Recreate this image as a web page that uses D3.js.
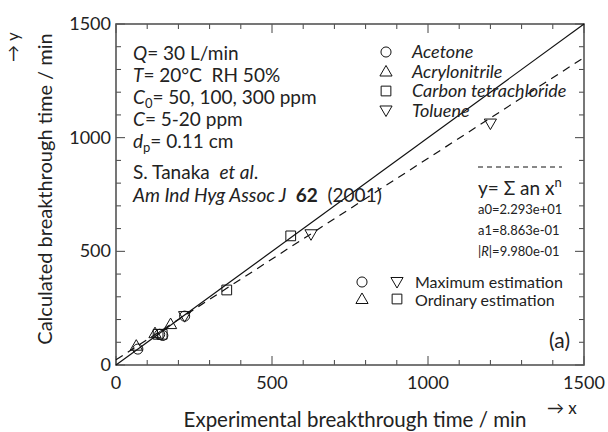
<!doctype html>
<html lang="en">
<head>
<meta charset="utf-8">
<title>Breakthrough time</title>
<script src="https://d3js.org/d3.v7.min.js"></script>
<style>
  body { margin: 0; background: #fff; }
  svg text { font-family: Lato, "Open Sans", sans-serif; fill: #222; white-space: pre; }
</style>
</head>
<body>
<div id="here"></div>
<script>
// data (x = experimental, y = calculated, min)
var acetoneX = [70, 140, 150, 220];
var acetoneY = [70, 135, 130, 215];
var acryloX = [65, 125, 175];
var acryloY = [85, 140, 180];
var carbonX = [135, 148, 355, 560];
var carbonY = [135, 135, 330, 568];
var tolueneX = [220, 625, 1200];
var tolueneY = [215, 575, 1062];
var fitA0 = 22.93, fitA1 = 0.8863;
var axisTicks = [0, 500, 1000, 1500];

var w = 608, h = 432;
var pL = 116, pR = 584, pT = 24, pB = 365;

var svg = d3.select("#here").append("svg")
  .attr("width", w).attr("height", h);

var x = d3.scaleLinear().domain([0, 1500]).range([pL, pR]);
var y = d3.scaleLinear().domain([0, 1500]).range([pB, pT]);

// ticks inside on all four sides
var minor = d3.range(0, 1501, 100);
function tickLen(v) { return v % 500 == 0 ? 9 : 5; }
var tk = svg.append("g").attr("stroke", "#444").attr("stroke-width", 1);
minor.forEach(function(v) {
  tk.append("line").attr("x1", x(v)).attr("x2", x(v)).attr("y1", pB).attr("y2", pB - tickLen(v));
  tk.append("line").attr("x1", x(v)).attr("x2", x(v)).attr("y1", pT).attr("y2", pT + tickLen(v));
  tk.append("line").attr("y1", y(v)).attr("y2", y(v)).attr("x1", pL).attr("x2", pL + tickLen(v));
  tk.append("line").attr("y1", y(v)).attr("y2", y(v)).attr("x1", pR).attr("x2", pR - tickLen(v));
});

svg.append("rect")
  .attr("x", pL).attr("y", pT)
  .attr("width", pR - pL).attr("height", pB - pT)
  .attr("fill", "none").attr("stroke", "#555").attr("stroke-width", 1.6);

// tick labels
svg.selectAll(".xl").data(axisTicks).enter().append("text")
  .attr("x", function(d) { return x(d); }).attr("y", 389)
  .attr("text-anchor", "middle").style("font-size", "18px")
  .text(function(d) { return d; });
svg.selectAll(".yl").data(axisTicks).enter().append("text")
  .attr("x", 111).attr("y", function(d) { return y(d) + 6; })
  .attr("text-anchor", "end").style("font-size", "18px")
  .text(function(d) { return d; });

// axis titles
svg.append("text").attr("x", 355).attr("y", 427).attr("text-anchor", "middle")
  .style("font-size", "20.5px").text("Experimental breakthrough time / min");
svg.append("text").attr("x", 547).attr("y", 414)
  .style("font-size", "17px").text("\u2192 x");
svg.append("text").attr("transform", "translate(52,189) rotate(-90)").attr("text-anchor", "middle")
  .style("font-size", "20px").text("Calculated breakthrough time / min");
svg.append("text").attr("transform", "translate(19,62) rotate(-90)")
  .style("font-size", "17px").text("\u2192 y");

// lines: y = x and fit
var line = d3.line().x(function(d) { return x(d[0]); }).y(function(d) { return y(d[1]); });
svg.append("path").attr("d", line([[0, 0], [1500, 1500]]))
  .attr("stroke", "#111").attr("stroke-width", 1.2).attr("fill", "none");
svg.append("path").attr("d", line([[0, fitA0], [1500, fitA0 + fitA1 * 1500]]))
  .attr("stroke", "#111").attr("stroke-width", 1.2).attr("fill", "none")
  .attr("stroke-dasharray", "8,6");

// markers
var sym = {
  circle: d3.symbol().type(d3.symbolCircle).size(80),
  tri: d3.symbol().type(d3.symbolTriangle).size(64),
  square: d3.symbol().type(d3.symbolSquare).size(95)
};
function marker(g, kind, px, py) {
  var p = g.append("path")
    .attr("fill", "none").attr("stroke", "#111").attr("stroke-width", 1);
  if (kind == "inv") {
    p.attr("d", sym.tri()).attr("transform", "translate(" + px + "," + py + ") rotate(180)");
  } else {
    p.attr("d", sym[kind]()).attr("transform", "translate(" + px + "," + py + ")");
  }
  return p;
}
var pts = svg.append("g");
acetoneX.forEach(function(v, i) { marker(pts, "circle", x(v), y(acetoneY[i])); });
acryloX.forEach(function(v, i) { marker(pts, "tri", x(v), y(acryloY[i]) + 1); });
carbonX.forEach(function(v, i) { marker(pts, "square", x(v), y(carbonY[i])); });
tolueneX.forEach(function(v, i) { marker(pts, "inv", x(v), y(tolueneY[i]) - 1); });

// conditions text
var cond = svg.append("g").style("font-size", "19px");
var t;
t = cond.append("text").attr("x", 133).attr("y", 60);
t.append("tspan").style("font-style", "italic").text("Q");
t.append("tspan").text("= 30 L/min");
t = cond.append("text").attr("x", 133).attr("y", 82);
t.append("tspan").style("font-style", "italic").text("T");
t.append("tspan").text("= 20\u00b0C  RH 50%");
t = cond.append("text").attr("x", 133).attr("y", 104);
t.append("tspan").style("font-style", "italic").text("C");
t.append("tspan").attr("dy", 4).style("font-size", "13px").text("0");
t.append("tspan").attr("dy", -4).text("= 50, 100, 300 ppm");
t = cond.append("text").attr("x", 133).attr("y", 126);
t.append("tspan").style("font-style", "italic").text("C");
t.append("tspan").text("= 5-20 ppm");
t = cond.append("text").attr("x", 133).attr("y", 148);
t.append("tspan").style("font-style", "italic").text("d");
t.append("tspan").attr("dy", 4).style("font-size", "13px").text("p");
t.append("tspan").attr("dy", -4).text("= 0.11 cm");

var ref = svg.append("g").style("font-size", "19px");
t = ref.append("text").attr("x", 133).attr("y", 179);
t.append("tspan").text("S. Tanaka  ");
t.append("tspan").style("font-style", "italic").text("et al");
t.append("tspan").text(".");
t = ref.append("text").attr("x", 133).attr("y", 202);
t.append("tspan").style("font-style", "italic").text("Am Ind Hyg Assoc J");
t.append("tspan").style("font-weight", "bold").text("  62");
t.append("tspan").text("  (2001)");

// compound legend
var names = ["Acetone", "Acrylonitrile", "Carbon tetrachloride", "Toluene"];
var kinds = ["circle", "tri", "square", "inv"];
var leg = svg.append("g");
names.forEach(function(n, i) {
  var yy = 52 + i * 19.5;
  marker(leg, kinds[i], 386, yy + (kinds[i] == "tri" ? 1 : kinds[i] == "inv" ? -1 : 0));
  leg.append("text").attr("x", 412).attr("y", yy + 6)
    .style("font-size", "18px").style("font-style", "italic").text(n);
});

// fit panel
svg.append("line").attr("x1", 478).attr("x2", 562).attr("y1", 167).attr("y2", 167)
  .attr("stroke", "#111").attr("stroke-dasharray", "5,4");
t = svg.append("text").attr("x", 478).attr("y", 195).style("font-size", "19px");
t.append("tspan").text("y= \u03a3 an x");
t.append("tspan").attr("dy", -8).style("font-size", "13px").text("n");
var fitText = ["a0=2.293e+01", "a1=8.863e-01"];
fitText.forEach(function(s, i) {
  svg.append("text").attr("x", 478).attr("y", 214 + i * 21)
    .style("font-size", "13px").text(s);
});
t = svg.append("text").attr("x", 478).attr("y", 256).style("font-size", "13px");
t.append("tspan").text("|");
t.append("tspan").style("font-style", "italic").text("R");
t.append("tspan").text("|=9.980e-01");

// estimation legend
marker(svg, "circle", 362, 282);
marker(svg, "inv", 397, 281);
marker(svg, "tri", 362, 300);
marker(svg, "square", 397, 299);
svg.append("text").attr("x", 415).attr("y", 288).style("font-size", "16px").text("Maximum estimation");
svg.append("text").attr("x", 415).attr("y", 306).style("font-size", "16px").text("Ordinary estimation");

svg.append("text").attr("x", 570).attr("y", 348).attr("text-anchor", "end")
  .style("font-size", "21px").text("(a)");
</script>
</body>
</html>
